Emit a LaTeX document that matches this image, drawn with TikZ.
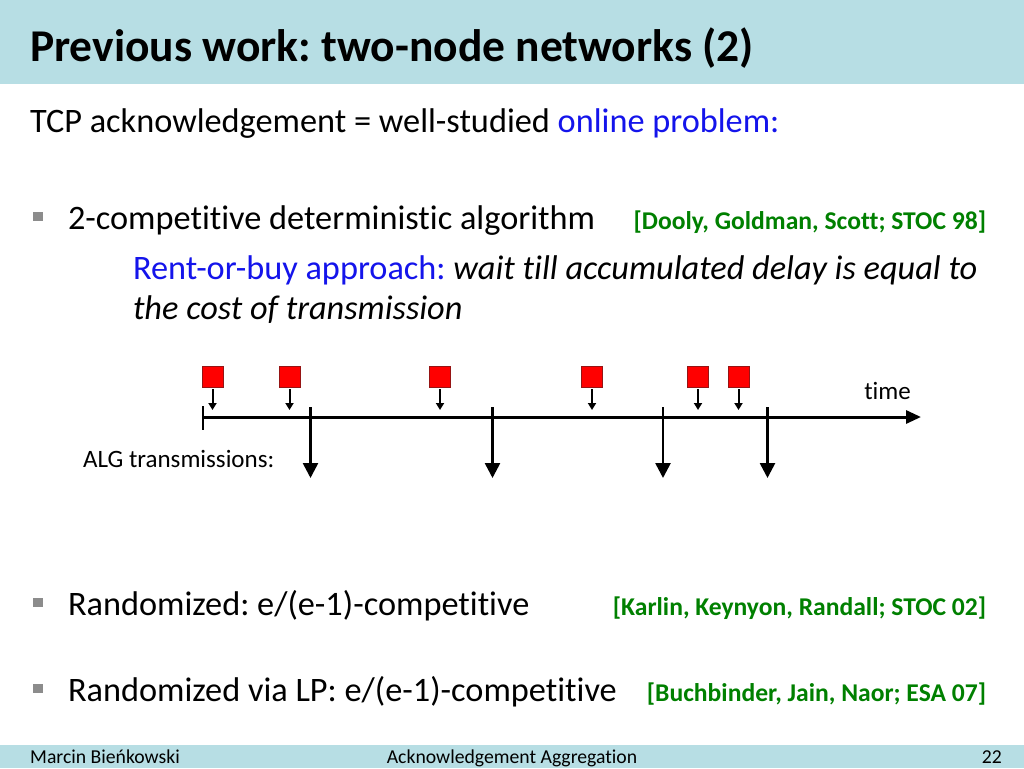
\documentclass[tikz,border=0pt]{standalone}
\usepackage{fontspec}
\setmainfont{Carlito}[Ligatures={NoCommon}]
\usetikzlibrary{arrows.meta}
\definecolor{barblue}{RGB}{183,222,228}
\definecolor{txtblue}{RGB}{20,20,235}
\definecolor{citegreen}{RGB}{0,128,0}
\definecolor{bulletgray}{RGB}{140,140,140}
\definecolor{boxred}{RGB}{255,0,0}
\definecolor{boxedge}{RGB}{150,20,20}
\frenchspacing
\tikzset{
  txt/.style={inner sep=0pt, outer sep=0pt, anchor=base west},
  body/.style={txt, font=\fontsize{34.3}{40}\selectfont},
  cite/.style={inner sep=0pt, outer sep=0pt, anchor=base east, text=citegreen, font=\fontsize{25.6}{30}\selectfont\bfseries},
  bulletbox/.style={fill=bulletgray, draw=none, minimum width=10pt, minimum height=9pt, inner sep=0pt},
  pkt/.style={fill=boxred, draw=boxedge, line width=0.6pt, minimum size=21pt, inner sep=0pt},
  pktarrow/.style={line width=2pt, -{Triangle[length=7pt,width=8pt]}},
  sendarrow/.style={line width=2.6pt, -{Triangle[length=15pt,width=15pt]}},
  small/.style={inner sep=0pt, font=\fontsize{25}{29}\selectfont},
  foot/.style={inner sep=0pt, font=\fontsize{19.7}{23}\selectfont}
}
\begin{document}
\begin{tikzpicture}[x=1pt,y=-1pt]
\useasboundingbox (0,0) rectangle (1024,768);
\fill[white] (0,0) rectangle (1024,768);
% title bar
\fill[barblue] (0,0) rectangle (1024,84);
\node[txt, font=\fontsize{45.5}{50}\selectfont\bfseries] (title) at (30,61) {Previous work: two-node networks (2)};
% intro line
\node[body] (intro) at (30,132) {TCP acknowledgement = well-studied \textcolor{txtblue}{online problem:}};
% bullet 1
\node[bulletbox] (b1) at (38,216) {};
\node[body] (t1) at (68,229) {2-competitive deterministic algorithm};
\node[cite] (c1) at (986,229) {[Dooly, Goldman, Scott; STOC 98]};
\node[body] (r1) at (133,279) {\textcolor{txtblue}{Rent-or-buy approach:} \itshape wait till accumulated delay is equal to};
\node[body] (r2) at (133,319) {\itshape the cost of transmission};
% timeline
\coordinate (tl0) at (203,417);
\coordinate (tl1) at (921,417);
\draw[line width=3pt, -{Triangle[length=15pt,width=13pt]}] (tl0) -- (tl1);
\coordinate (tk0) at (203,406);
\coordinate (tk1) at (203,430);
\draw[line width=2.6pt] (tk0) -- (tk1);
\node[small, anchor=base east] (time) at (911,399) {time};
\node[small, anchor=base west] (alg) at (83,467) {ALG transmissions:};
% packets
\foreach \i/\x in {1/212.5,2/289.5,3/440,4/592,5/698,6/738.5}{
  \node[pkt] (s\i) at (\x,376.5) {};
  \coordinate (a\i) at (\x,410);
  \draw[pktarrow] ([yshift=-2pt]s\i.south) -- (a\i);
}
% transmissions
\foreach \i/\x in {1/310.5,2/492.5,3/663,4/767.5}{
  \coordinate (u\i) at (\x,407);
  \coordinate (d\i) at (\x,478);
  \draw[sendarrow] (u\i) -- (d\i);
}
% bullet 2
\node[bulletbox] (b2) at (38,602) {};
\node[body] (t2) at (68,615) {Randomized: e/(e-1)-competitive};
\node[cite] (c2) at (986,615) {[Karlin, Keynyon, Randall; STOC 02]};
% bullet 3
\node[bulletbox] (b3) at (38,688) {};
\node[body] (t3) at (68,701) {Randomized via LP: e/(e-1)-competitive};
\node[cite] (c3) at (986,701) {[Buchbinder, Jain, Naor; ESA 07]};
% footer
\fill[barblue] (0,745) rectangle (1024,768);
\node[foot, anchor=base west] (f1) at (30,763) {Marcin Bieńkowski};
\node[foot, anchor=base] (f2) at (512,763) {Acknowledgement Aggregation};
\node[foot, anchor=base east] (f3) at (1002,763) {22};
\end{tikzpicture}
\end{document}
